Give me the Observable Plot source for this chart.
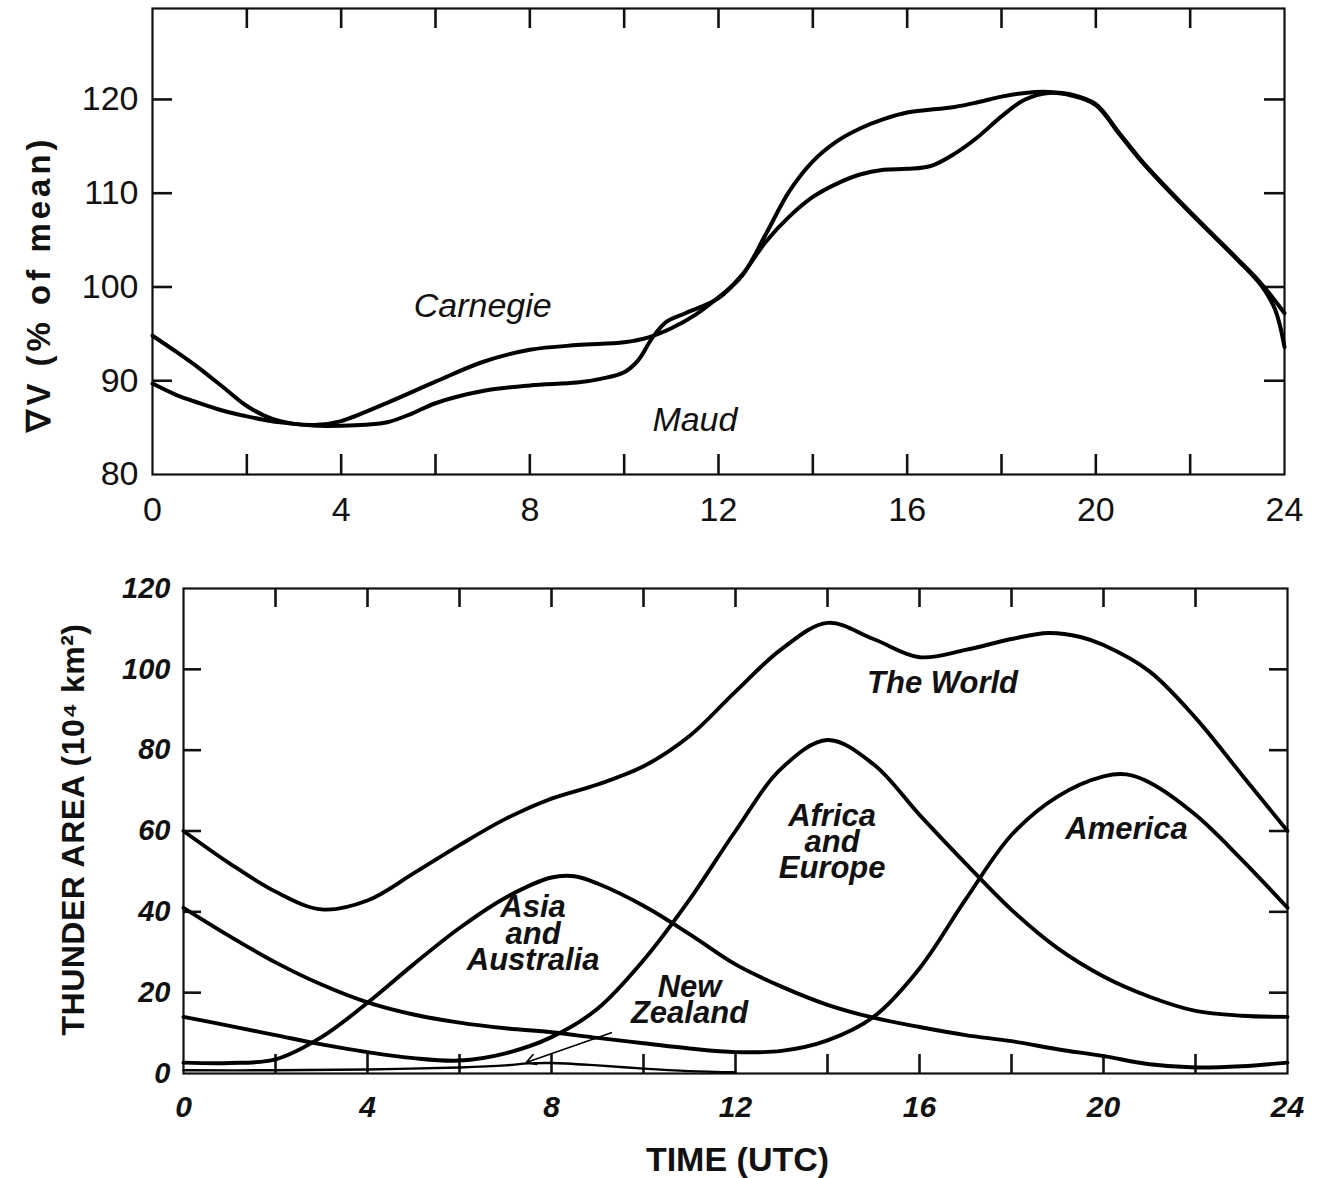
<!DOCTYPE html>
<html>
<head>
<meta charset="utf-8">
<script src="https://cdn.jsdelivr.net/npm/d3@7"></script>
<script src="https://cdn.jsdelivr.net/npm/@observablehq/plot@0.6"></script>
<style>
  html, body { margin: 0; padding: 0; background: #fff; }
  #chart { position: relative; width: 1330px; height: 1178px; }
  #chart svg { display: block; }
  text[aria-label="y-title-top"] { letter-spacing: 4px; }
  text[aria-label="y-title-bottom"] { letter-spacing: 0.5px; }
</style>
</head>
<body>
<div id="chart"></div>
<script>
// ---- Diurnal potential gradient (% of mean), hour UTC -> value ----
const carnegie = [
  [0, 94.8], [0.5, 93.1], [1, 91.3], [1.5, 89.3], [2, 87.3], [2.5, 86.0], [3, 85.4], [3.5, 85.3],
  [4, 85.7], [5, 87.7], [6, 89.9], [7, 92.0], [8, 93.3], [9, 93.8], [10, 94.1], [10.5, 94.6],
  [11, 95.6], [11.5, 97.0], [12, 98.9], [12.5, 101.2], [13, 105.6], [13.5, 110.2], [14, 113.4],
  [14.5, 115.5], [15, 116.9], [15.5, 117.9], [16, 118.6], [17, 119.2], [17.5, 119.7], [18, 120.3],
  [18.5, 120.7], [19, 120.8], [19.5, 120.5], [20, 119.5], [20.5, 116.4], [21, 113.3], [21.5, 110.6],
  [22, 108.0], [22.5, 105.5], [23, 103.0], [23.5, 100.4], [24, 97.2]
];
const maud = [
  [0, 89.7], [0.5, 88.5], [1, 87.6], [1.5, 86.8], [2, 86.2], [2.5, 85.7], [3, 85.4], [3.5, 85.2],
  [4, 85.2], [4.5, 85.3], [5, 85.6], [5.5, 86.5], [6, 87.6], [7, 88.9], [8, 89.5], [9, 89.8],
  [9.5, 90.2], [10, 90.9], [10.3, 92.2], [10.6, 94.6], [10.9, 96.3], [11.3, 97.2], [12, 98.8],
  [12.5, 101.3], [13, 104.8], [13.5, 107.5], [14, 109.6], [14.5, 111.0], [15, 112.0], [15.5, 112.5],
  [16, 112.6], [16.5, 112.9], [17, 114.2], [17.5, 116.0], [18, 118.2], [18.5, 120.0], [19, 120.7],
  [19.5, 120.4], [20, 119.4], [20.5, 116.3], [21, 113.2], [21.5, 110.5], [22, 107.9], [22.5, 105.4],
  [23, 102.9], [23.5, 100.2], [23.8, 97.6], [24, 93.6]
];

// ---- Thunderstorm area (10^4 km^2), hour UTC -> value ----
const world = [
  [0, 60], [1, 52], [2, 45], [3, 40.6], [4, 42.8], [5, 49.5], [6, 56.5], [7, 63],
  [8, 68], [9, 71.5], [10, 76], [11, 83.5], [12, 94.5], [13, 105], [14, 111.5], [15, 107.5],
  [16, 103], [17, 104.8], [18, 107.5], [18.8, 109], [19.5, 108], [20, 106], [21, 99.5],
  [22, 88], [23, 74], [24, 60]
];
const africaEurope = [
  [0, 14], [1, 11.8], [2, 9.5], [3, 7.2], [4, 5.3], [5, 3.8], [6, 3.2], [7, 5], [8, 9],
  [9, 16], [10, 28], [11, 43], [12, 60], [13, 75.5], [14, 82.5], [15, 76.5], [16, 64],
  [17, 52], [18, 40.5], [19, 31], [20, 24], [21, 19], [22, 15.5], [23, 14.3], [24, 14]
];
const asiaAustralia = [
  [0, 2.7], [1, 2.6], [2, 3.5], [3, 9], [4, 17.5], [5, 27], [6, 36], [7, 43.5], [8, 48.5],
  [8.5, 48.8], [9, 47], [10, 41.5], [11, 34.5], [12, 27], [13, 21.5], [14, 17], [15, 13.8],
  [16, 11.5], [17, 9.5], [18, 8], [19, 6], [20, 4.3], [21, 2.3], [22, 1.5], [23, 1.8], [24, 2.7]
];
const america = [
  [0, 41], [1, 34], [2, 27.5], [3, 22], [4, 17.6], [5, 14.6], [6, 12.6], [7, 11.2], [8, 10.2],
  [9, 8.8], [10, 7.5], [11, 6.2], [12, 5.3], [13, 5.6], [14, 8.2], [15, 14], [16, 26], [17, 43],
  [18, 59], [19, 68.5], [20, 73.5], [20.5, 74], [21, 72], [22, 64], [23, 53], [24, 41]
];
const newZealand = [
  [0, 0.8], [2, 0.8], [4, 1.0], [6, 1.5], [7, 2.0], [7.5, 2.5], [8, 2.6], [9, 2.0], [10, 1.2],
  [11, 0.6], [12, 0.3]
];

// ---- Axis ticks ----
const hourLabels = [0, 4, 8, 12, 16, 20, 24];
const hourMinor = [2, 4, 6, 8, 10, 12, 14, 16, 18, 20, 22];
const pgTicks = [80, 90, 100, 110, 120];
const pgInner = [90, 100, 110, 120];
const areaTicks = [0, 20, 40, 60, 80, 100, 120];
const areaInner = [20, 40, 60, 80, 100];

// ---- Curve names ----
const pgNames = ["Carnegie", "Maud"];
const pgNameAt = [[7.0, 98.0], [11.5, 85.8]];
const areaNames = ["The World", "Asia\nand\nAustralia", "Africa\nand\nEurope", "America", "New\nZealand"];
const areaNameAt = [[16.5, 96.3], [7.6, 34.2], [14.1, 56.9], [20.5, 60.1], [11.0, 17.8]];
const nzPointer = [{from: [9.3, 10.1], to: [7.45, 2.7]}];

const FONT = "'Liberation Sans', Arial, Helvetica, sans-serif";
const W = 1330;
const hourDomain = [0, 24];

// tick length in data units for a given pixel length
function tickLen(px, domain, span) { return px * (domain[1] - domain[0]) / span; }

// inward ticks on all four sides of the frame
function frameTicks(xInner, yInner, xDom, yDom, lenX, lenY, sw) {
  return [
    Plot.ruleX(xInner, {x: d => d, y1: yDom[0], y2: yDom[0] + lenY, stroke: "#111", strokeWidth: sw}),
    Plot.ruleX(xInner, {x: d => d, y1: yDom[1] - lenY, y2: yDom[1], stroke: "#111", strokeWidth: sw}),
    Plot.ruleY(yInner, {y: d => d, x1: xDom[0], x2: xDom[0] + lenX, stroke: "#111", strokeWidth: sw}),
    Plot.ruleY(yInner, {y: d => d, x1: xDom[1] - lenX, x2: xDom[1], stroke: "#111", strokeWidth: sw})
  ];
}

// ---------- Upper panel: potential gradient ----------
{
  const H = 540, mt = 8, mb = 66, ml = 152, mr = 46;
  const yDom = [80, 129.7];
  const lenX = tickLen(20, hourDomain, W - ml - mr);
  const lenY = tickLen(20, yDom, H - mt - mb);
  const series = [carnegie, maud];
  const chart = Plot.plot({
    width: W, height: H,
    marginTop: mt, marginBottom: mb, marginLeft: ml, marginRight: mr,
    style: {fontFamily: FONT, color: "#111", background: "#fff"},
    x: {domain: hourDomain},
    y: {domain: yDom},
    marks: [
      Plot.frame({stroke: "#111", strokeWidth: 2.2}),
      ...frameTicks(hourMinor, pgInner, hourDomain, yDom, lenX, lenY, 2.6),
      ...series.map(s => Plot.line(s, {
        x: d => d[0], y: d => d[1], curve: "catmull-rom",
        stroke: "#000", strokeWidth: 4, strokeLinejoin: "round", strokeLinecap: "round"
      })),
      Plot.axisX(hourLabels, {anchor: "bottom", tickSize: 0, tickPadding: 22, fontSize: 34, label: null}),
      Plot.axisY(pgTicks, {anchor: "left", tickSize: 0, tickPadding: 14, fontSize: 34, label: null}),
      Plot.text(pgNames, {
        x: (d, i) => pgNameAt[i][0], y: (d, i) => pgNameAt[i][1], text: d => d,
        fontSize: 34, fontStyle: "italic", fill: "#111"
      }),
      Plot.text(["∇V (% of mean)"], {
        text: d => d, frameAnchor: "left", textAnchor: "middle", rotate: -90,
        dx: 39 - ml, dy: 283 - (mt + H - mb) / 2,
        lineAnchor: "middle", fontSize: 33, fontWeight: "bold", fill: "#111",
        ariaLabel: () => "y-title-top"
      })
    ]
  });
  document.getElementById("chart").appendChild(chart);
}

// ---------- Lower panel: thunderstorm area ----------
{
  const H = 638, mt = 48, mb = 105, ml = 183, mr = 43;
  const yDom = [0, 120];
  const lenX = tickLen(18, hourDomain, W - ml - mr);
  const lenY = tickLen(19, yDom, H - mt - mb);
  const series = [world, africaEurope, asiaAustralia, america];
  const chart = Plot.plot({
    width: W, height: H,
    marginTop: mt, marginBottom: mb, marginLeft: ml, marginRight: mr,
    style: {fontFamily: FONT, color: "#111", background: "#fff"},
    x: {domain: hourDomain},
    y: {domain: yDom},
    marks: [
      Plot.frame({stroke: "#111", strokeWidth: 2.2}),
      ...frameTicks(hourMinor, areaInner, hourDomain, yDom, lenX, lenY, 2.6),
      ...series.map(s => Plot.line(s, {
        x: d => d[0], y: d => d[1], curve: "catmull-rom",
        stroke: "#000", strokeWidth: 3.9, strokeLinejoin: "round", strokeLinecap: "round"
      })),
      Plot.line(newZealand, {
        x: d => d[0], y: d => d[1], curve: "catmull-rom",
        stroke: "#000", strokeWidth: 2.4, strokeLinecap: "round"
      }),
      Plot.arrow(nzPointer, {
        x1: d => d.from[0], y1: d => d.from[1], x2: d => d.to[0], y2: d => d.to[1],
        stroke: "#000", strokeWidth: 1.6, headLength: 10
      }),
      Plot.axisX(hourLabels, {
        anchor: "bottom", tickSize: 0, tickPadding: 22, fontSize: 30,
        fontStyle: "italic", fontWeight: "bold", label: null
      }),
      Plot.axisY(areaTicks, {
        anchor: "left", tickSize: 0, tickPadding: 13, fontSize: 29,
        fontStyle: "italic", fontWeight: "bold", label: null
      }),
      Plot.text(areaNames, {
        x: (d, i) => areaNameAt[i][0], y: (d, i) => areaNameAt[i][1], text: d => d,
        fontSize: 31, fontStyle: "italic", fontWeight: "bold", lineHeight: 0.85, fill: "#111"
      }),
      Plot.text(["THUNDER AREA (10⁴ km²)"], {
        text: d => d, frameAnchor: "left", textAnchor: "middle", rotate: -90,
        dx: 73 - ml, dy: 829 - 540 - (mt + H - mb) / 2,
        lineAnchor: "middle", fontSize: 32, fontWeight: "bold", fill: "#111",
        ariaLabel: () => "y-title-bottom"
      }),
      Plot.text(["TIME (UTC)"], {
        text: d => d, frameAnchor: "bottom", dx: 737 - (ml + W - mr) / 2, dy: 620 - (H - mb),
        lineAnchor: "middle", fontSize: 34, fontWeight: "bold", fill: "#111"
      })
    ]
  });
  document.getElementById("chart").appendChild(chart);
}
</script>
</body>
</html>
